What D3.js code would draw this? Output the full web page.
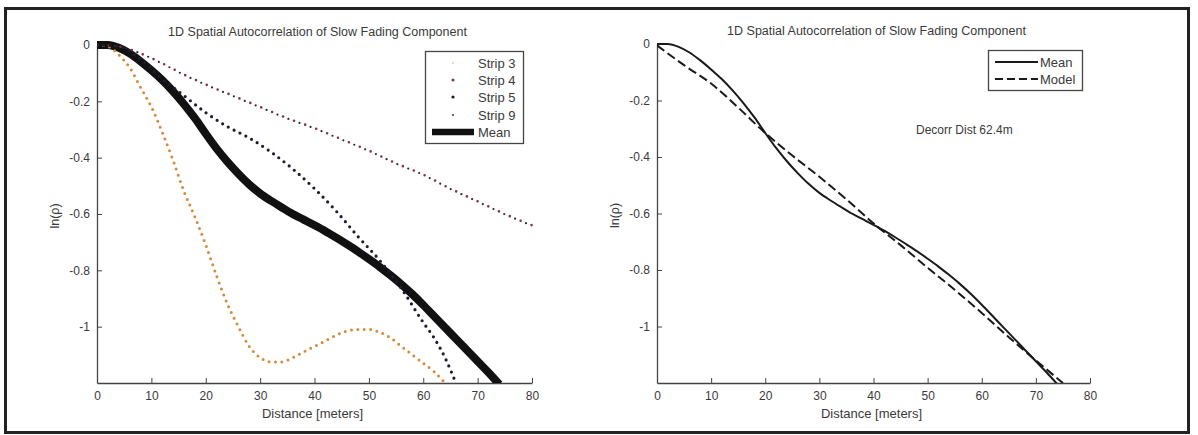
<!DOCTYPE html>
<html><head><meta charset="utf-8">
<script src="https://cdn.jsdelivr.net/npm/d3@7"></script>
<style>
html,body{margin:0;padding:0;background:#fff;}
svg text{font-family:"Liberation Sans",Arial,sans-serif;fill:#3a3a3a;}
</style></head><body>
<svg id="c" width="1198" height="435"></svg>
<script>
// ---- data ----
const titleText = "1D Spatial Autocorrelation of Slow Fading Component";
const xLabelText = "Distance [meters]";
const xTicks = [0,10,20,30,40,50,60,70,80];
const yTicks = [0,-0.2,-0.4,-0.6,-0.8,-1];
const yTickLabels = ["0","-0.2","-0.4","-0.6","-0.8","-1"];

const meanX = [0,2,4,6,8,10,12,14,16,18,20,22,24,26,28,30,32,34,36,38,40,42,44,46,48,50,52,54,56,58,60,62,64,66,68,70,72,74];
const meanY = [0,0,-0.01,-0.03,-0.058,-0.09,-0.125,-0.165,-0.21,-0.26,-0.315,-0.368,-0.415,-0.457,-0.495,-0.527,-0.553,-0.577,-0.6,-0.62,-0.64,-0.661,-0.684,-0.708,-0.733,-0.76,-0.788,-0.818,-0.85,-0.885,-0.923,-0.963,-1.003,-1.043,-1.083,-1.123,-1.163,-1.205];

const strip3X = [0,2,4,6,8,10,12,14,16,18,20,22,24,26,28,30,32,34,36,38,40,42,44,46,48,50,52,54,56,58,60,62,64];
const strip3Y = [0,-0.005,-0.035,-0.08,-0.15,-0.22,-0.31,-0.41,-0.52,-0.61,-0.71,-0.82,-0.92,-1.0,-1.07,-1.11,-1.125,-1.125,-1.11,-1.09,-1.07,-1.05,-1.03,-1.015,-1.01,-1.01,-1.02,-1.04,-1.07,-1.1,-1.13,-1.16,-1.2];

const strip4X = [0,4,8,12,16,20,25,30,35,40,45,50,55,60,65,70,75,80];
const strip4Y = [0,-0.005,-0.03,-0.065,-0.105,-0.14,-0.18,-0.22,-0.26,-0.295,-0.335,-0.375,-0.42,-0.46,-0.51,-0.555,-0.6,-0.64];

const strip5X = [0,4,8,12,16,20,24,28,32,36,40,44,48,52,56,60,62,64,66];
const strip5Y = [0,-0.005,-0.05,-0.12,-0.18,-0.24,-0.29,-0.33,-0.38,-0.44,-0.51,-0.59,-0.68,-0.765,-0.865,-0.985,-1.04,-1.11,-1.2];

const strip9X = [0,4,8,12,16,20,25,30,35,40,45,50,55,60,65,70,75,80];
const strip9Y = [0,-0.005,-0.03,-0.066,-0.106,-0.141,-0.181,-0.221,-0.261,-0.296,-0.336,-0.376,-0.421,-0.461,-0.511,-0.556,-0.601,-0.641];

const modelX = [0,5,10,15,20,25,30,35,40,45,50,55,60,65,70,75];
const modelY = [-0.005,-0.075,-0.14,-0.225,-0.315,-0.395,-0.47,-0.55,-0.635,-0.712,-0.792,-0.87,-0.952,-1.038,-1.12,-1.2];

const legendLeft = ["Strip 3","Strip 4","Strip 5","Strip 9","Mean"];
const legendRight = ["Mean","Model"];
const decorrText = "Decorr Dist  62.4m";
const yLabelText = "ln(ρ)";

// ---- drawing ----
const svg = d3.select("#c");
svg.append("rect").attr("x",5.5).attr("y",8.5).attr("width",1183).attr("height",424)
  .attr("fill","none").attr("stroke","#222").attr("stroke-width",3);

const zip = (xs,ys)=>xs.map((x,i)=>[x,ys[i]]);

function panel(id, x0, x1, yTop, yBot) {
  const x = d3.scaleLinear().domain([0,80]).range([x0,x1]);
  const y = d3.scaleLinear().domain([-1.2,0]).range([yBot,yTop]);
  const g = svg.append("g");
  g.append("clipPath").attr("id",id).append("rect")
    .attr("x",x0).attr("y",yTop-6).attr("width",x1-x0+4).attr("height",yBot-yTop+6);
  const xa = g.append("g").attr("transform",`translate(0,${yBot})`)
    .call(d3.axisBottom(x).tickValues(xTicks).tickSizeInner(-5).tickSizeOuter(0).tickPadding(8).tickFormat(d=>String(d)));
  const ya = g.append("g").attr("transform",`translate(${x0},0)`)
    .call(d3.axisLeft(y).tickValues(yTicks).tickSizeInner(-5).tickSizeOuter(0).tickPadding(7).tickFormat((d,i)=>yTickLabels[i]));
  [xa,ya].forEach(a=>{
    a.selectAll("path.domain").attr("stroke","#444").attr("stroke-width",1.3);
    a.selectAll("line").attr("stroke","#444");
    a.selectAll("text").attr("font-size",12).attr("fill","#3a3a3a")
      .style("font-family",'"Liberation Sans",Arial,sans-serif');
  });
  g.append("text").attr("x",(x0+x1)/2+3).attr("y",yTop-9).attr("text-anchor","middle")
    .attr("font-size",12.5).attr("fill","#4a4a4a").text(titleText);
  g.append("text").attr("x",(x0+x1)/2-2).attr("y",yBot+35).attr("text-anchor","middle")
    .attr("font-size",13).text(xLabelText);
  g.append("text").attr("transform",`translate(${x0-38},${(yTop+yBot)/2+2}) rotate(-90)`)
    .attr("text-anchor","middle").attr("font-size",12.5).text(yLabelText);
  const plot = g.append("g").attr("clip-path",`url(#${id})`);
  const line = d3.line().x(d=>x(d[0])).y(d=>y(d[1])).curve(d3.curveMonotoneX);
  return {x,y,g,plot,line};
}

// Left panel
const P1 = panel("clipL", 97, 532, 45, 383);
function dotted(P, xs, ys, color, w, gap, off) {
  P.plot.append("path").attr("d",P.line(zip(xs,ys))).attr("fill","none")
    .attr("stroke",color).attr("stroke-width",w).attr("stroke-linecap","round")
    .attr("stroke-dasharray",`0 ${gap}`).attr("stroke-dashoffset",off||0);
}
P1.plot.append("path").attr("d",P1.line(zip(meanX,meanY))).attr("fill","none")
  .attr("stroke","#111").attr("stroke-width",8).attr("stroke-linejoin","round");
dotted(P1, strip3X, strip3Y, "#d68a3c", 3, 6.4);
dotted(P1, strip4X, strip4Y, "#8a2f50", 2.6, 11.8);
dotted(P1, strip9X, strip9Y, "#2a2a3a", 2.2, 11.8, 5.9);
dotted(P1, strip5X, strip5Y, "#1d1d30", 3.2, 6.6);

// left legend
const lg = svg.append("g");
lg.append("rect").attr("x",425.5).attr("y",51.5).attr("width",98).attr("height",92)
  .attr("fill","#fff").attr("stroke","#444").attr("stroke-width",1.3);
const rowsY = [63,80,97,115,132];
legendLeft.forEach((t,i)=>{
  lg.append("text").attr("x",478).attr("y",rowsY[i]+4.5).attr("font-size",13).text(t);
});
lg.append("circle").attr("cx",453).attr("cy",rowsY[0]).attr("r",1.2).attr("fill","#f0d8b8");
lg.append("circle").attr("cx",453).attr("cy",rowsY[1]).attr("r",1.5).attr("fill","#8a2f50");
lg.append("circle").attr("cx",453).attr("cy",rowsY[2]).attr("r",1.6).attr("fill","#1d1d30");
lg.append("circle").attr("cx",453).attr("cy",rowsY[3]).attr("r",1.1).attr("fill","#444");
lg.append("line").attr("x1",432).attr("x2",474).attr("y1",rowsY[4]).attr("y2",rowsY[4])
  .attr("stroke","#111").attr("stroke-width",6.5);

// Right panel
const P2 = panel("clipR", 657, 1090, 44, 383);
P2.plot.append("path").attr("d",P2.line(zip(meanX,meanY))).attr("fill","none")
  .attr("stroke","#1a1a1a").attr("stroke-width",2);
P2.plot.append("path").attr("d",P2.line(zip(modelX,modelY))).attr("fill","none")
  .attr("stroke","#1a1a1a").attr("stroke-width",2).attr("stroke-dasharray","9 4");
const rg = svg.append("g");
rg.append("rect").attr("x",988.5).attr("y",50.5).attr("width",94).attr("height",40)
  .attr("fill","#fff").attr("stroke","#444").attr("stroke-width",1.3);
rg.append("line").attr("x1",995).attr("x2",1038).attr("y1",62).attr("y2",62)
  .attr("stroke","#1a1a1a").attr("stroke-width",2.2);
rg.append("line").attr("x1",995).attr("x2",1038).attr("y1",79).attr("y2",79)
  .attr("stroke","#1a1a1a").attr("stroke-width",2.2).attr("stroke-dasharray","8 4");
legendRight.forEach((t,i)=>{
  rg.append("text").attr("x",1040).attr("y",[66.5,83.5][i]).attr("font-size",13).text(t);
});
svg.append("text").attr("x",916).attr("y",134).attr("font-size",12).text(decorrText);
</script>
</body></html>
